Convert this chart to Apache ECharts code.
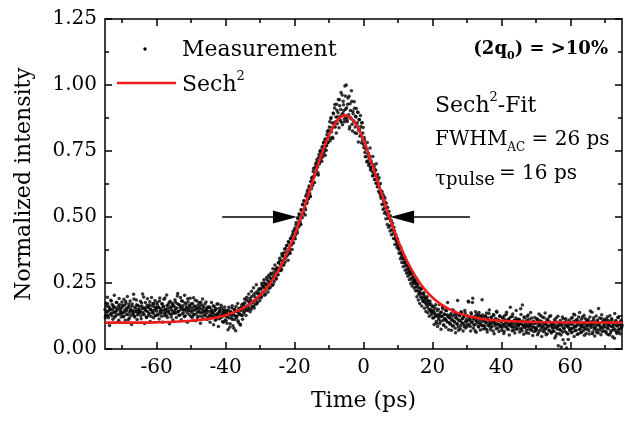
<!DOCTYPE html>
<html><head><meta charset="utf-8">
<script src="https://cdn.jsdelivr.net/npm/echarts@6/dist/echarts.min.js"></script>
<style>html,body{margin:0;padding:0;background:#fff}#c{width:636px;height:423px}</style>
</head><body><div id="c"></div>
<script>
// ---- data ----
const xTicks = [-60, -40, -20, 0, 20, 40, 60];
const xMinorTicks = [-70, -50, -30, -10, 10, 30, 50, 70];
// measurement: two interleaved time grids (ps) and normalized intensity (x1000)
const measStartA = -75, measStartB = -74.9, measStep = 0.2;
const measA_milli = [
150,128,162,139,171,118,147,155,133,182,126,149,164,138,120,157,143,176,131,152,109,168,140,147,135,
158,137,122,165,149,180,131,144,157,112,170,139,151,127,162,146,133,189,121,154,141,168,129,150,137,
161,143,126,174,152,138,197,130,155,147,119,166,141,158,134,179,150,123,163,145,136,171,148,127,156,
143,168,131,157,182,139,152,124,171,146,160,135,193,149,128,165,154,140,176,133,159,121,147,169,138,
162,145,178,136,155,201,141,169,128,157,149,183,133,164,150,122,174,147,159,138,190,152,131,167,144,
156,139,172,128,161,147,185,133,152,119,166,143,158,137,177,124,150,163,141,129,170,146,135,155,118,
142,126,158,131,117,149,138,164,122,145,109,153,133,127,170,139,115,146,129,156,121,137,101,148,132,
124,139,98,133,147,117,82,141,128,155,112,136,79,149,125,161,119,140,107,152,131,94,146,158,127,
149,168,141,175,158,187,146,163,181,155,192,170,151,199,176,162,207,184,169,214,190,177,221,196,210,
205,228,199,241,216,233,251,222,208,246,263,235,257,229,272,248,266,283,259,244,291,276,302,268,295,
303,281,327,296,335,309,301,352,318,364,339,329,381,350,392,361,407,373,366,419,395,428,401,446,418,
452,418,471,446,439,493,462,507,481,473,526,497,548,512,561,535,527,584,556,602,571,617,589,578,634,
647,618,672,653,631,689,662,707,694,668,726,701,748,716,739,762,728,781,747,794,768,753,812,781,829,
824,861,797,877,838,802,894,856,913,841,879,927,853,895,868,944,881,907,859,962,893,925,871,996,908,
1000,869,927,881,957,842,903,872,938,826,891,863,912,841,879,816,857,896,829,868,806,843,781,857,818,
776,801,744,769,729,758,712,741,703,730,679,712,688,655,699,664,641,679,628,652,615,640,598,624,588,
579,596,548,587,562,534,571,519,552,508,536,494,521,467,505,488,452,476,437,461,447,418,433,409,397,
402,378,391,362,384,349,368,341,356,327,347,314,333,302,321,291,309,282,296,268,287,259,274,248,263,
258,236,249,221,243,207,232,214,197,226,188,209,181,203,176,194,168,187,159,182,151,174,146,169,139,
142,161,118,137,155,124,98,146,131,112,169,127,105,140,122,153,91,133,116,147,108,129,176,121,100,
118,96,134,109,87,125,143,102,79,117,131,94,112,71,128,106,89,139,115,98,121,84,146,103,111,
127,93,181,108,119,85,137,102,176,114,91,123,69,106,132,98,117,83,128,109,94,121,187,104,89,
112,87,126,99,74,118,91,134,103,82,121,95,109,68,127,101,88,115,143,96,79,110,92,124,85,
104,81,119,93,67,112,98,131,86,107,74,115,92,158,101,83,123,95,71,109,88,117,79,102,94,
87,113,76,152,98,69,106,89,121,81,94,62,110,85,129,77,100,91,71,117,84,103,66,96,80,
99,74,115,86,62,108,93,127,79,101,68,89,118,75,96,54,110,83,104,71,123,88,65,97,81,
92,67,111,81,49,102,76,124,88,58,97,71,8,93,64,115,79,21,89,106,61,84,36,98,73,
101,78,117,64,93,132,82,69,108,87,55,99,121,74,90,62,113,85,97,70,128,81,94,59,105,
88,112,69,97,144,81,103,58,92,118,75,99,84,63,109,91,153,72,98,80,116,66,104,87,95,
83,106,61,94,122,77,89,53,101,69,115,86,72,98,41,91,108,64,87,119,75,96,58,103,81,90
];
const measB_milli = [
118,173,142,196,127,160,89,151,185,136,169,113,158,204,140,126,177,149,101,163,191,132,155,121,178,
167,124,188,141,109,172,153,199,130,161,117,182,146,93,170,138,207,125,159,143,186,112,165,134,149,
139,181,115,162,208,133,154,97,176,145,121,190,158,128,167,104,149,195,137,172,118,160,184,127,153,
176,129,158,114,193,147,135,171,102,162,188,126,150,139,205,119,168,144,96,181,155,132,173,110,163,
135,187,152,119,172,210,143,128,166,195,111,158,181,137,149,204,126,170,155,101,179,146,163,192,124,
171,118,149,194,131,163,107,155,182,140,124,175,152,98,168,137,189,115,157,143,126,178,149,112,160,
119,157,101,143,176,124,135,92,161,128,149,113,170,132,85,153,141,118,166,127,104,147,136,159,110,
107,146,121,73,158,132,96,139,117,164,88,128,151,112,69,143,125,172,101,136,154,91,129,168,113,
171,136,189,152,127,196,163,148,208,174,141,185,219,160,177,232,155,198,186,243,171,209,194,228,183,
226,194,249,213,237,262,204,244,227,271,238,216,279,251,233,287,262,241,304,273,256,318,281,265,309,
281,327,302,344,319,297,361,334,352,318,379,346,367,392,355,336,403,381,362,418,394,377,437,402,424,
458,432,479,451,497,466,512,483,471,528,501,546,517,562,534,508,579,551,596,567,588,613,579,634,607,
651,627,684,655,663,701,676,718,689,659,737,707,752,724,711,768,739,783,758,734,796,771,824,783,806,
841,789,872,823,856,797,891,842,926,861,818,904,879,945,838,921,866,972,887,849,938,903,861,958,877,
914,862,951,887,833,929,876,978,851,901,864,937,819,882,911,847,898,784,869,831,884,812,857,793,839,
763,792,728,757,709,782,741,695,723,761,688,704,672,729,658,691,643,677,702,628,661,615,649,593,627,
571,598,547,528,579,514,556,493,537,472,519,461,498,447,484,433,468,452,419,447,396,428,409,384,417,
388,364,379,342,366,328,357,312,341,326,298,333,287,316,276,303,262,292,248,284,239,271,252,231,259,
221,247,198,234,186,219,172,208,229,163,196,181,213,154,189,142,175,198,137,168,124,182,149,131,161,
117,148,93,132,168,104,126,85,151,119,97,138,75,124,159,108,91,131,113,82,145,102,128,73,118,
95,128,71,113,149,88,104,132,62,119,97,184,83,108,126,77,141,99,115,68,122,91,136,80,105,
86,121,178,94,112,68,133,101,192,79,115,92,141,63,107,124,85,138,99,72,118,89,129,76,110,
123,78,101,136,64,112,89,148,97,73,119,84,105,131,58,96,114,77,139,92,108,66,125,87,102,
71,118,92,59,126,84,104,139,77,97,112,53,88,121,95,69,133,82,107,61,99,146,75,113,90,
109,64,95,131,78,167,89,56,118,83,102,71,124,92,60,113,86,138,74,97,51,105,82,119,68,
77,112,54,95,133,70,88,105,47,121,83,99,64,136,78,92,58,114,87,71,102,126,61,94,80,
68,101,42,89,117,59,83,12,96,74,108,53,87,121,35,79,99,66,115,4,91,57,82,110,70,
93,62,118,79,104,47,129,86,71,112,95,58,103,138,77,89,64,121,83,99,52,116,75,107,88,
76,103,57,121,88,95,139,64,110,82,49,97,125,73,106,61,92,117,85,54,130,79,101,68,113,
99,67,114,81,55,107,93,126,62,85,110,46,97,78,134,71,102,59,88,119,65,92,76,108,84
];
// sech^2 fit curve
const fitX = [-75,-70,-65,-60,-55,-50,-45,-40,-35,-32.5,-30,-27.5,-25,-22.5,-20,-17.5,-15,-12.5,-10,-7.5,-5.3,-2.5,0,2.5,5,7.5,10,12.5,15,17.5,20,22.5,25,27.5,30,35,40,45,50,60,75];
const fitY = [0.100,0.100,0.100,0.101,0.103,0.107,0.114,0.128,0.154,0.175,0.203,0.241,0.290,0.353,0.431,0.523,0.624,0.724,0.810,0.868,0.885,0.857,0.792,0.700,0.599,0.500,0.411,0.337,0.277,0.230,0.195,0.169,0.150,0.136,0.126,0.113,0.107,0.104,0.102,0.1005,0.100];
// FWHM arrows: [tail x, head-centre x] at y level
const arrowLevel = 0.5;
const arrowLeft = [-41, -22.8];
const arrowRight = [30.9, 11.2];

const measurement = measA_milli.map((v, i) => [measStartA + i * measStep, v / 1000])
  .concat(measB_milli.map((v, i) => [measStartB + i * measStep, v / 1000]));
const fit = fitX.map((x, i) => [x, fitY[i]]);

const FONT = '"DejaVu Serif", serif';
const black = '#000';
const red = '#ee1c1c';

const chart = echarts.init(document.getElementById('c'), null, {renderer: 'canvas'});

function xAxisDef(pos, ticks, len, showLine, showLabel, extra) {
  return Object.assign({
    type: 'value', position: pos, min: -75, max: 75,
    axisLine: {show: showLine, onZero: false, lineStyle: {color: black, width: 1.5}},
    axisTick: {show: true, inside: true, length: len, customValues: ticks, lineStyle: {color: black, width: 1.5}},
    axisLabel: showLabel ? {show: true, customValues: ticks, color: black, fontFamily: FONT, fontSize: 20, margin: 9} : {show: false},
    splitLine: {show: false}
  }, extra || {});
}

const option = {
  animation: false,
  backgroundColor: '#fff',
  grid: {left: 105, right: 14, top: 19, bottom: 74, containLabel: false},
  xAxis: [
    xAxisDef('bottom', xTicks, 7, true, true, {
      name: 'Time (ps)', nameLocation: 'middle', nameGap: 41,
      nameTextStyle: {color: black, fontFamily: FONT, fontSize: 22}
    }),
    xAxisDef('bottom', xMinorTicks, 4, false, false),
    xAxisDef('top', xTicks, 7, true, false),
    xAxisDef('top', xMinorTicks, 4, false, false)
  ],
  yAxis: [
    {
      type: 'value', position: 'left', min: 0, max: 1.25, interval: 0.25,
      axisLine: {show: true, onZero: false, lineStyle: {color: black, width: 1.5}},
      axisTick: {show: true, inside: true, length: 7, lineStyle: {color: black, width: 1.5}},
      minorTick: {show: true, splitNumber: 2, length: 4, lineStyle: {color: black, width: 1.5}},
      axisLabel: {color: black, fontFamily: FONT, fontSize: 20, margin: 8, formatter: v => v.toFixed(2)},
      splitLine: {show: false},
      name: 'Normalized intensity', nameLocation: 'middle', nameGap: 70, nameRotate: 90,
      nameTextStyle: {color: black, fontFamily: FONT, fontSize: 22}
    },
    {
      type: 'value', position: 'right', min: 0, max: 1.25, interval: 0.25,
      axisLine: {show: true, onZero: false, lineStyle: {color: black, width: 1.5}},
      axisTick: {show: true, inside: true, length: 7, lineStyle: {color: black, width: 1.5}},
      minorTick: {show: true, splitNumber: 2, length: 4, lineStyle: {color: black, width: 1.5}},
      axisLabel: {show: false},
      splitLine: {show: false}
    }
  ],
  series: [
    {
      name: 'Measurement', type: 'scatter', xAxisIndex: 0, yAxisIndex: 0,
      data: measurement, symbol: 'circle', symbolSize: 3.5,
      itemStyle: {color: black}, silent: true, z: 2, large: false
    },
    {
      name: 'Sech²', type: 'line', xAxisIndex: 0, yAxisIndex: 0,
      data: fit, smooth: 0.35, showSymbol: false, symbol: 'none',
      lineStyle: {color: red, width: 2.6}, silent: true, z: 3,
      markLine: {
        silent: true, symbol: ['none', 'triangle'], symbolSize: [13, 24],
        lineStyle: {color: black, width: 1.5, type: 'solid'},
        itemStyle: {color: black},
        label: {show: false},
        data: [
          [{coord: [arrowLeft[0], arrowLevel]}, {coord: [arrowLeft[1], arrowLevel]}],
          [{coord: [arrowRight[0], arrowLevel]}, {coord: [arrowRight[1], arrowLevel]}]
        ]
      }
    }
  ],
  graphic: [
    {type: 'circle', shape: {cx: 145, cy: 49, r: 1.7}, style: {fill: black}, z: 10},
    {type: 'text', x: 182, y: 50, z: 10, style: {text: 'Measurement', fontFamily: FONT, fontSize: 22, fill: black, verticalAlign: 'middle'}},
    {type: 'line', shape: {x1: 117, y1: 83, x2: 176, y2: 83}, style: {stroke: red, lineWidth: 2.6}, z: 10},
    {type: 'text', x: 182, y: 83, z: 10, style: {
      text: '{n|Sech}{sup|2}', verticalAlign: 'middle', fill: black,
      rich: {n: {fontFamily: FONT, fontSize: 22, lineHeight: 26, verticalAlign: 'bottom'}, sup: {fontFamily: FONT, fontSize: 13, lineHeight: 16, verticalAlign: 'top'}}
    }},
    {type: 'text', x: 608, y: 51, z: 10, style: {
      text: '{n|(2q}{sub|0}{n|) = >10%}', align: 'right', verticalAlign: 'middle', fill: black,
      rich: {n: {fontFamily: FONT, fontSize: 18, fontWeight: 'bold', lineHeight: 22, verticalAlign: 'top'}, sub: {fontFamily: FONT, fontSize: 11, fontWeight: 'bold', lineHeight: 13, verticalAlign: 'bottom'}}
    }},
    {type: 'text', x: 435, y: 104, z: 10, style: {
      text: '{n|Sech}{sup|2}{n|-Fit}', verticalAlign: 'middle', fill: black,
      rich: {n: {fontFamily: FONT, fontSize: 22, lineHeight: 26, verticalAlign: 'bottom'}, sup: {fontFamily: FONT, fontSize: 13, lineHeight: 16, verticalAlign: 'top'}}
    }},
    {type: 'text', x: 435, y: 142, z: 10, style: {
      text: '{n|FWHM}{sub|AC}{n| = 26 ps}', verticalAlign: 'middle', fill: black,
      rich: {n: {fontFamily: FONT, fontSize: 20, lineHeight: 24, verticalAlign: 'top'}, sub: {fontFamily: FONT, fontSize: 12, lineHeight: 14, verticalAlign: 'bottom'}}
    }},
    {type: 'text', x: 435, y: 190, z: 10, style: {
      text: '{t|τ}{s|pulse}', verticalAlign: 'bottom', fill: black,
      rich: {t: {fontFamily: FONT, fontSize: 20}, s: {fontFamily: FONT, fontSize: 18}}
    }},
    {type: 'text', x: 499, y: 184, z: 10, style: {
      text: '= 16 ps', fontFamily: FONT, fontSize: 20, fill: black, verticalAlign: 'bottom'
    }}
  ]
};
chart.setOption(option);
</script>
</body></html>
